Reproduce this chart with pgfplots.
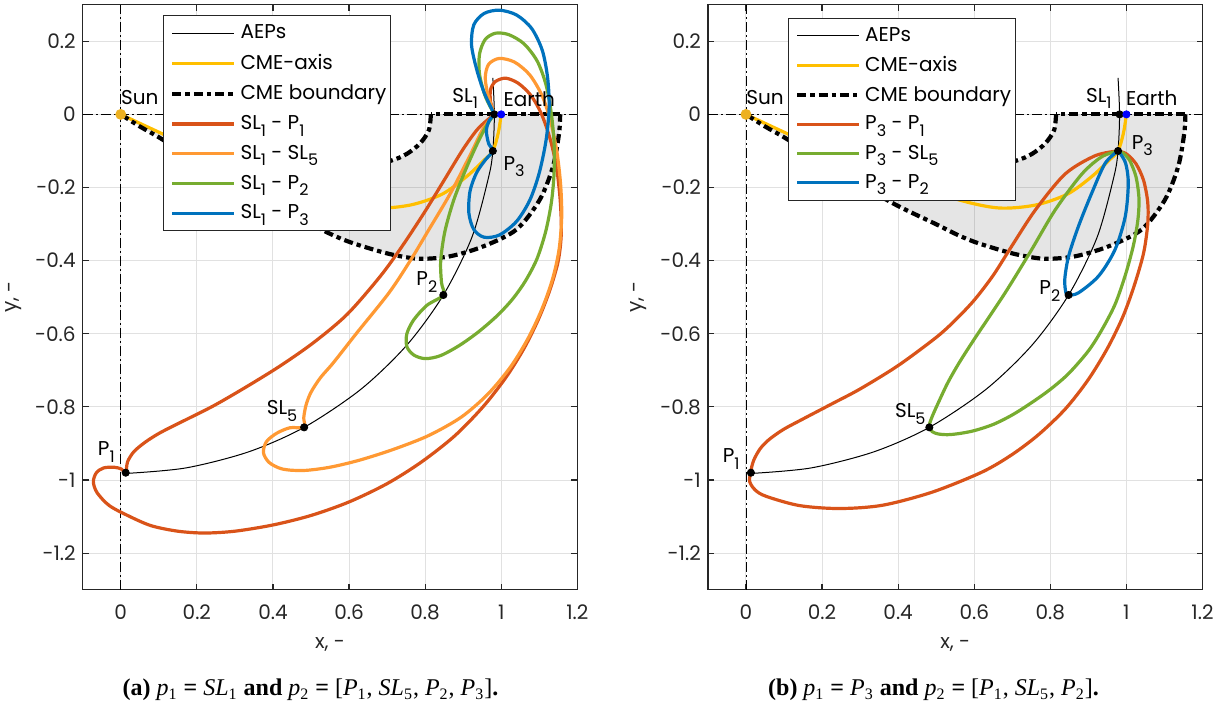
\documentclass[border=0pt]{standalone}
\usepackage{fontspec}
\setmainfont{Poppins}
\newfontfamily\capfont{Liberation Serif}
\usepackage{pgfplots}
\pgfplotsset{compat=1.18}
\newcommand{\sub}[1]{\raisebox{-0.32em}{\fontsize{8}{8}\selectfont #1}}
\newlength\lgdw
\newcommand{\lgd}[1]{\makebox[\lgdw][l]{#1}}

\definecolor{cDO}{RGB}{217,83,25}
\definecolor{cLO}{RGB}{255,153,51}
\definecolor{cGR}{RGB}{119,172,48}
\definecolor{cBL}{RGB}{0,114,189}
\definecolor{cYE}{RGB}{255,191,0}
\definecolor{cSUN}{RGB}{237,177,32}
\definecolor{cAX}{RGB}{38,38,38}
\definecolor{cGRID}{RGB}{225,225,225}

\tikzset{
  traj/.style={line width=1.6pt, smooth, line join=round},
  bnd/.style={black, line width=2.1pt, dash pattern=on 4.5pt off 2pt on 2.2pt off 2pt},
  axl/.style={black, line width=0.45pt, dash pattern=on 5pt off 1.5pt on 1pt off 1.5pt},
  dot/.style={only marks, mark=*, mark size=1.8pt},
  lbl/.style={inner sep=0pt, font=\fontsize{10}{12}\selectfont},
}
\pgfplotsset{
  panel/.style={
    scale only axis, width=247.3pt, height=292.5pt,
    xmin=-0.1, xmax=1.2, ymin=-1.3, ymax=0.3,
    xtick={0,0.2,0.4,0.6,0.8,1,1.2},
    xticklabels={0,0.2,0.4,0.6,0.8,1,1.2},
    ytick={-1.2,-1,-0.8,-0.6,-0.4,-0.2,0,0.2},
    yticklabels={-1.2,-1,-0.8,-0.6,-0.4,-0.2,0,0.2},
    tick pos=both, tick align=inside, major tick length=3pt,
    grid=major, major grid style={cGRID, line width=0.5pt},
    axis line style={cAX, line width=0.6pt},
    tick style={cAX, line width=0.6pt},
    font=\fontsize{10}{12}\selectfont,
    xticklabel style={yshift=-4pt, text=cAX},
    yticklabel style={text=cAX},
    xlabel={x, -}, ylabel={y, -},
    xlabel style={text=cAX, yshift=-2pt},
    ylabel style={text=cAX},
    legend cell align=left,
    legend style={draw=cAX, line width=0.5pt, fill=white, anchor=north west,
      inner xsep=0pt, inner ysep=2.5pt, row sep=2.3pt,
      cells={anchor=west},
      font=\fontsize{10}{12}\selectfont},
    legend image code/.code={\path (0pt,0pt); \draw[##1] (3.5pt,0pt) -- (34.5pt,0pt);},
  },
}

\begin{document}%
\settowidth{\lgdw}{\fontsize{10}{12}\selectfont CME boundary}%
\begin{tikzpicture}
%% ===================== LEFT PANEL =====================
\begin{axis}[panel, at={(41.35pt,63.65pt)}, anchor=south west,
  legend style={at={(0.162,0.982)}}]
\addplot[fill=black, fill opacity=0.1, draw=none, smooth, forget plot] coordinates {
 (0,0) (0.05,-0.033) (0.107,-0.067) (0.25,-0.16) (0.386,-0.243) (0.499,-0.300) (0.557,-0.330)
 (0.604,-0.350) (0.665,-0.370) (0.720,-0.385) (0.787,-0.395) (0.866,-0.388) (0.953,-0.361)
 (1.040,-0.315) (1.101,-0.234) (1.136,-0.143) (1.152,-0.052) (1.155,-0.01) (1.155,0) (1.145,0)
 (0.825,0) (0.815,0) (0.815,-0.01) (0.810,-0.043) (0.787,-0.079) (0.752,-0.108) (0.709,-0.127)
 (0.63,-0.143) (0.50,-0.15) (0.35,-0.135) (0.20,-0.09) (0.10,-0.048) (0,0)};
\addplot[axl, forget plot] coordinates {(-0.1,0) (1.2,0)};
\addplot[axl, forget plot] coordinates {(0,-1.3) (0,0.3)};
% AEPs
\addplot[black, line width=0.5pt, smooth] coordinates {
 (0.015,-0.982) (0.171,-0.967) (0.336,-0.923) (0.482,-0.856) (0.631,-0.752) (0.752,-0.631)
 (0.848,-0.494) (0.923,-0.336) (0.967,-0.171) (0.978,-0.100) (0.982,0) (0.978,0.100)};
\addlegendentry{\lgd{AEPs}}
% CME axis
\addplot[cYE, line width=1.6pt, smooth] coordinates {
 (0,0) (0.107,-0.052) (0.25,-0.12) (0.40,-0.18) (0.56,-0.234) (0.665,-0.256) (0.761,-0.248)
 (0.845,-0.218) (0.909,-0.170) (0.955,-0.125) (0.978,-0.100) (0.992,-0.052) (1.0,0)};
\addlegendentry{\lgd{CME-axis}}
% CME boundary
\addplot[bnd, smooth] coordinates {
 (0,0) (0.05,-0.033) (0.107,-0.067) (0.25,-0.16) (0.386,-0.243) (0.499,-0.300) (0.557,-0.330)
 (0.604,-0.350) (0.665,-0.370) (0.720,-0.385) (0.787,-0.395) (0.866,-0.388) (0.953,-0.361)
 (1.040,-0.315) (1.101,-0.234) (1.136,-0.143) (1.152,-0.052) (1.155,0)};
\addlegendentry{\lgd{CME boundary}}
\addplot[bnd, forget plot] coordinates {(1.155,0) (0.815,0)};
\addplot[bnd, smooth, forget plot] coordinates {
 (0.815,0) (0.810,-0.043) (0.787,-0.079) (0.752,-0.108) (0.709,-0.127) (0.63,-0.143) (0.50,-0.15)};
% SL1 - P1
\addplot[traj, cDO] coordinates {
 (0.982,0) (0.972,0.035) (0.972,0.068) (0.985,0.090) (1.012,0.099) (1.045,0.085) (1.078,0.052)
 (1.105,0.003) (1.128,-0.065) (1.145,-0.143) (1.155,-0.234) (1.158,-0.324) (1.150,-0.40)
 (1.128,-0.48) (1.098,-0.56) (1.060,-0.64) (1.012,-0.72) (0.952,-0.80) (0.877,-0.88) (0.790,-0.951)
 (0.70,-1.01) (0.60,-1.06) (0.50,-1.097) (0.40,-1.123) (0.30,-1.140) (0.22,-1.145) (0.15,-1.140)
 (0.08,-1.125) (0.02,-1.098) (-0.03,-1.07) (-0.062,-1.035) (-0.072,-1.005) (-0.064,-0.980)
 (-0.045,-0.967) (-0.018,-0.965) (0.002,-0.970) (0.013,-0.980)
 (0.018,-0.950) (0.035,-0.922) (0.065,-0.896) (0.103,-0.871) (0.156,-0.843) (0.244,-0.797)
 (0.332,-0.744) (0.419,-0.688) (0.507,-0.624) (0.595,-0.547) (0.682,-0.443) (0.74,-0.36)
 (0.80,-0.265) (0.85,-0.18) (0.90,-0.095) (0.94,-0.038) (0.982,0)};
\addlegendentry{\lgd{SL\sub{1} - P\sub{1}}}
% SL1 - SL5
\addplot[traj, cLO] coordinates {
 (0.982,0) (0.966,0.05) (0.958,0.10) (0.967,0.137) (0.995,0.153) (1.035,0.143) (1.075,0.108)
 (1.108,0.05) (1.130,-0.02) (1.146,-0.10) (1.156,-0.19) (1.159,-0.28) (1.152,-0.37) (1.135,-0.45)
 (1.108,-0.53) (1.072,-0.61) (1.025,-0.69) (0.965,-0.765) (0.895,-0.828) (0.81,-0.878)
 (0.72,-0.915) (0.63,-0.945) (0.55,-0.965) (0.48,-0.974) (0.425,-0.970) (0.39,-0.952)
 (0.375,-0.925) (0.383,-0.895) (0.41,-0.872) (0.445,-0.857) (0.482,-0.856)
 (0.481,-0.83) (0.487,-0.795) (0.50,-0.76) (0.525,-0.72) (0.559,-0.679) (0.621,-0.597)
 (0.705,-0.488) (0.761,-0.40) (0.81,-0.315) (0.867,-0.215) (0.919,-0.11) (0.952,-0.04) (0.982,0)};
\addlegendentry{\lgd{SL\sub{1} - SL\sub{5}}}
% SL1 - P2
\addplot[traj, cGR] coordinates {
 (0.982,0) (0.958,0.05) (0.943,0.11) (0.943,0.165) (0.958,0.205) (0.985,0.222) (1.02,0.218)
 (1.06,0.193) (1.095,0.145) (1.118,0.08) (1.132,0.0) (1.139,-0.08) (1.139,-0.16) (1.132,-0.24)
 (1.117,-0.32) (1.094,-0.395) (1.064,-0.455) (1.03,-0.505) (0.99,-0.55) (0.94,-0.595)
 (0.89,-0.632) (0.84,-0.66) (0.80,-0.668) (0.77,-0.658) (0.752,-0.635) (0.752,-0.60)
 (0.77,-0.562) (0.805,-0.522) (0.848,-0.494)
 (0.843,-0.46) (0.841,-0.40) (0.852,-0.32) (0.875,-0.235) (0.905,-0.155) (0.937,-0.08)
 (0.963,-0.028) (0.982,0)};
\addlegendentry{\lgd{SL\sub{1} - P\sub{2}}}
% SL1 - P3
\addplot[traj, cBL] coordinates {
 (0.982,0) (0.955,0.06) (0.935,0.125) (0.922,0.19) (0.928,0.245) (0.955,0.276) (0.995,0.285)
 (1.04,0.272) (1.08,0.235) (1.108,0.175) (1.122,0.10) (1.126,0.02) (1.118,-0.07) (1.10,-0.16)
 (1.075,-0.235) (1.04,-0.293) (0.995,-0.330) (0.955,-0.336) (0.928,-0.315) (0.915,-0.27)
 (0.918,-0.21) (0.935,-0.16) (0.958,-0.125) (0.978,-0.100)
 (0.967,-0.080) (0.961,-0.045) (0.968,-0.018) (0.982,0)};
\addlegendentry{\lgd{SL\sub{1} - P\sub{3}}}
% points
\addplot[dot, black, forget plot] coordinates {(0.982,0) (0.978,-0.100) (0.848,-0.494) (0.482,-0.856) (0.013,-0.980)};
\addplot[dot, blue, forget plot] coordinates {(1.0,0)};
\addplot[dot, cSUN, mark size=2.5pt, forget plot] coordinates {(0,0)};
% labels
\node[lbl, anchor=south west] at (axis cs:0.0,0.025) {Sun};
\node[lbl, anchor=south east] at (axis cs:0.94,0.0145) {SL\sub{1}};
\node[lbl, anchor=south west] at (axis cs:1.005,0.019) {Earth};
\node[lbl, anchor=north west] at (axis cs:1.005,-0.114) {P\sub{3}};
\node[lbl, anchor=south east] at (axis cs:0.833,-0.487) {P\sub{2}};
\node[lbl, anchor=south east] at (axis cs:0.465,-0.840) {SL\sub{5}};
\node[lbl, anchor=south east] at (axis cs:-0.015,-0.952) {P\sub{1}};
\end{axis}

%% ===================== RIGHT PANEL =====================
\begin{axis}[panel, at={(353.95pt,63.65pt)}, anchor=south west,
  legend style={at={(0.161,0.978)}, row sep=2pt}]
\addplot[fill=black, fill opacity=0.1, draw=none, smooth, forget plot] coordinates {
 (0,0) (0.05,-0.033) (0.107,-0.067) (0.25,-0.16) (0.386,-0.243) (0.499,-0.300) (0.557,-0.330)
 (0.604,-0.350) (0.665,-0.370) (0.720,-0.385) (0.787,-0.395) (0.866,-0.388) (0.953,-0.361)
 (1.040,-0.315) (1.101,-0.234) (1.136,-0.143) (1.152,-0.052) (1.155,-0.01) (1.155,0) (1.145,0)
 (0.825,0) (0.815,0) (0.815,-0.01) (0.810,-0.043) (0.787,-0.079) (0.752,-0.108) (0.709,-0.127)
 (0.63,-0.143) (0.50,-0.15) (0.35,-0.135) (0.20,-0.09) (0.10,-0.048) (0,0)};
\addplot[axl, forget plot] coordinates {(-0.1,0) (1.2,0)};
\addplot[axl, forget plot] coordinates {(0,-1.3) (0,0.3)};
\addplot[black, line width=0.5pt, smooth] coordinates {
 (0.015,-0.982) (0.171,-0.967) (0.336,-0.923) (0.482,-0.856) (0.631,-0.752) (0.752,-0.631)
 (0.848,-0.494) (0.923,-0.336) (0.967,-0.171) (0.978,-0.100) (0.982,0) (0.978,0.100)};
\addlegendentry{\lgd{AEPs}}
\addplot[cYE, line width=1.6pt, smooth] coordinates {
 (0,0) (0.107,-0.052) (0.25,-0.12) (0.40,-0.18) (0.56,-0.234) (0.665,-0.256) (0.761,-0.248)
 (0.845,-0.218) (0.909,-0.170) (0.955,-0.125) (0.978,-0.100) (0.992,-0.052) (1.0,0)};
\addlegendentry{\lgd{CME-axis}}
\addplot[bnd, smooth] coordinates {
 (0,0) (0.05,-0.033) (0.107,-0.067) (0.25,-0.16) (0.386,-0.243) (0.499,-0.300) (0.557,-0.330)
 (0.604,-0.350) (0.665,-0.370) (0.720,-0.385) (0.787,-0.395) (0.866,-0.388) (0.953,-0.361)
 (1.040,-0.315) (1.101,-0.234) (1.136,-0.143) (1.152,-0.052) (1.155,0)};
\addlegendentry{\lgd{CME boundary}}
\addplot[bnd, forget plot] coordinates {(1.155,0) (0.815,0)};
\addplot[bnd, smooth, forget plot] coordinates {
 (0.815,0) (0.810,-0.043) (0.787,-0.079) (0.752,-0.108) (0.709,-0.127) (0.63,-0.143) (0.50,-0.15)};
% P3 - P1
\addplot[traj, cDO] coordinates {
 (0.978,-0.100) (0.918,-0.113) (0.839,-0.163) (0.761,-0.261) (0.70,-0.358) (0.65,-0.44)
 (0.60,-0.508) (0.55,-0.563) (0.50,-0.61) (0.40,-0.687) (0.30,-0.751) (0.229,-0.790)
 (0.15,-0.833) (0.098,-0.862) (0.06,-0.89) (0.037,-0.915) (0.02,-0.947) (0.012,-0.980)
 (0.010,-1.005) (0.025,-1.028) (0.054,-1.045) (0.141,-1.070) (0.246,-1.078) (0.359,-1.069)
 (0.490,-1.033) (0.621,-0.978) (0.70,-0.930) (0.77,-0.875) (0.84,-0.805) (0.90,-0.725)
 (0.95,-0.64) (0.99,-0.555) (1.02,-0.47) (1.045,-0.38) (1.056,-0.30) (1.056,-0.24)
 (1.045,-0.18) (1.025,-0.135) (1.000,-0.108) (0.978,-0.100)};
\addlegendentry{\lgd{P\sub{3} - P\sub{1}}}
% P3 - SL5
\addplot[traj, cGR] coordinates {
 (0.978,-0.100) (0.935,-0.116) (0.883,-0.163) (0.813,-0.261) (0.748,-0.375) (0.68,-0.49)
 (0.60,-0.615) (0.56,-0.68) (0.53,-0.735) (0.505,-0.79) (0.49,-0.825) (0.483,-0.845)
 (0.482,-0.856) (0.490,-0.868) (0.505,-0.874) (0.53,-0.876) (0.56,-0.873) (0.60,-0.865)
 (0.65,-0.848) (0.70,-0.822) (0.75,-0.789) (0.80,-0.752) (0.848,-0.709) (0.90,-0.647)
 (0.935,-0.590) (0.97,-0.52) (0.997,-0.44) (1.018,-0.36) (1.030,-0.29) (1.033,-0.23)
 (1.025,-0.17) (1.008,-0.125) (0.99,-0.105) (0.978,-0.100)};
\addlegendentry{\lgd{P\sub{3} - SL\sub{5}}}
% P3 - P2
\addplot[traj, cBL] coordinates {
 (0.978,-0.100) (0.944,-0.134) (0.909,-0.215) (0.874,-0.306) (0.848,-0.388) (0.838,-0.451)
 (0.841,-0.488) (0.848,-0.494) (0.874,-0.488) (0.927,-0.442) (0.970,-0.370) (0.997,-0.279)
 (1.005,-0.188) (0.998,-0.134) (0.983,-0.106) (0.978,-0.100)};
\addlegendentry{\lgd{P\sub{3} - P\sub{2}}}
\addplot[dot, black, forget plot] coordinates {(0.982,0) (0.978,-0.100) (0.848,-0.494) (0.482,-0.856) (0.013,-0.980)};
\addplot[dot, blue, forget plot] coordinates {(1.0,0)};
\addplot[dot, cSUN, mark size=2.5pt, forget plot] coordinates {(0,0)};
\node[lbl, anchor=south west] at (axis cs:0.0,0.025) {Sun};
\node[lbl, anchor=south east] at (axis cs:0.962,0.0137) {SL\sub{1}};
\node[lbl, anchor=south west] at (axis cs:0.998,0.022) {Earth};
\node[lbl, anchor=north west] at (axis cs:1.013,-0.057) {P\sub{3}};
\node[lbl, anchor=south east] at (axis cs:0.827,-0.512) {P\sub{2}};
\node[lbl, anchor=south east] at (axis cs:0.473,-0.849) {SL\sub{5}};
\node[lbl, anchor=south east] at (axis cs:-0.016,-0.972) {P\sub{1}};
\end{axis}

\node[font=\capfont\fontsize{12}{14}\selectfont] at (155.25pt,13.5pt)
 {\textbf{(a)} \textit{p}\textsubscript{1} \textbf{=} \textit{SL}\textsubscript{1} \textbf{and} \textit{p}\textsubscript{2} \textbf{=} [\textit{P}\textsubscript{1}, \textit{SL}\textsubscript{5}, \textit{P}\textsubscript{2}, \textit{P}\textsubscript{3}]\textbf{.}};
\node[font=\capfont\fontsize{12}{14}\selectfont] at (466.75pt,13.5pt)
 {\textbf{(b)} \textit{p}\textsubscript{1} \textbf{=} \textit{P}\textsubscript{3} \textbf{and} \textit{p}\textsubscript{2} \textbf{=} [\textit{P}\textsubscript{1}, \textit{SL}\textsubscript{5}, \textit{P}\textsubscript{2}]\textbf{.}};
\pgfresetboundingbox
\path[use as bounding box] (0,0) rectangle (615pt,358.5pt);
\end{tikzpicture}%
\end{document}
